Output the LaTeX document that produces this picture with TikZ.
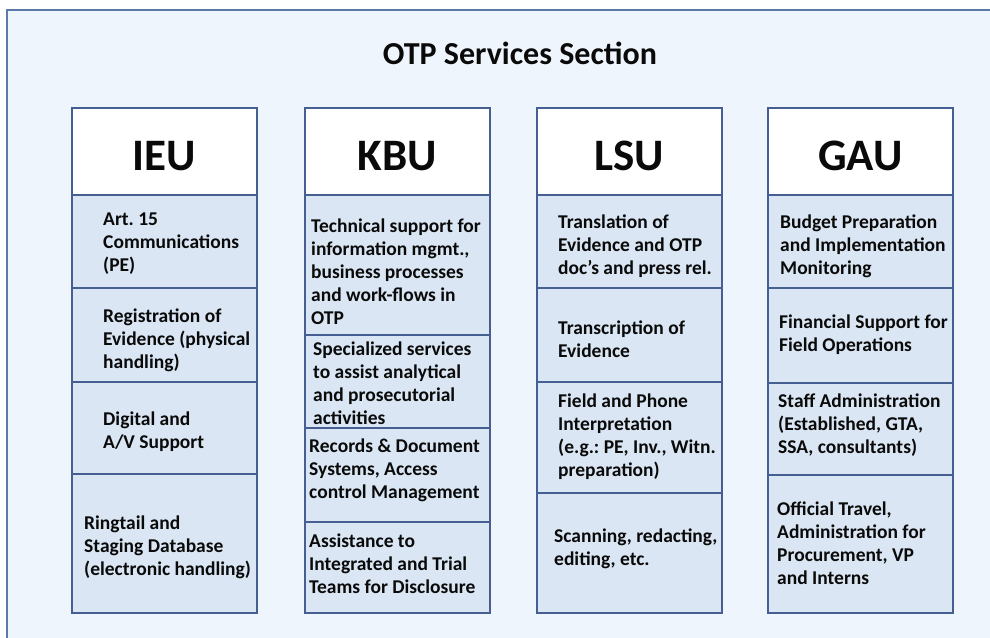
\documentclass[tikz,border=0pt]{standalone}
\usepackage{fontspec}
\setmainfont{Carlito}
\frenchspacing
\definecolor{pagebg}{HTML}{EEF5FC}
\definecolor{framec}{HTML}{5A7BAA}
\definecolor{cellfill}{HTML}{DAE6F3}
\definecolor{cellline}{HTML}{465F92}
\definecolor{inktext}{HTML}{0A0A0A}
\tikzset{
  cellbox/.style={fill=cellfill, draw=cellline, line width=2.6pt},
  headbox/.style={fill=white, draw=cellline, line width=2.6pt},
  celltext/.style={font=\bfseries\fontsize{19.5}{23}\selectfont\frenchspacing, align=left, inner sep=0pt, anchor=west, text=inktext},
  headtext/.style={font=\bfseries\fontsize{45}{50}\selectfont, inner sep=0pt, anchor=base, text=inktext},
  titletext/.style={font=\bfseries\fontsize{32}{36}\selectfont, inner sep=0pt, anchor=base, text=inktext}
}
\newcommand\cellrect[5]{\path[#1] (#2,{637-#4}) rectangle (#3,{637-#5});}
\begin{document}
\begin{tikzpicture}[x=1pt,y=1pt]
\useasboundingbox (0,0) rectangle (990,637);
\fill[white] (0,0) rectangle (990,637);
\begin{scope}
\clip (0,0) rectangle (990,637);
\filldraw[fill=pagebg, draw=framec, line width=2pt] (7,-20) rectangle (1010,{637-10});
\end{scope}
\node[titletext] (title) at (520,{637-65}) {OTP Services Section};
% IEU column
\cellrect{headbox}{72}{257}{108}{195}
\cellrect{cellbox}{72}{257}{195}{288}
\cellrect{cellbox}{72}{257}{288}{382}
\cellrect{cellbox}{72}{257}{382}{474}
\cellrect{cellbox}{72}{257}{474}{613}
\node[headtext] (ieuh) at (164.5,{637-171}) {IEU};
\node[celltext] (ieu1) at (103,{637-243.5}) {Art. 15\\Communications\\(PE)};
\node[celltext] (ieu2) at (103,{637-340.5}) {Registration of\\Evidence (physical\\handling)};
\node[celltext] (ieu3) at (103,{637-432}) {Digital and\\A/V Support};
\node[celltext] (ieu4) at (84,{637-547}) {Ringtail and\\Staging Database\\(electronic handling)};
% KBU column
\cellrect{headbox}{305}{490}{108}{195}
\cellrect{cellbox}{305}{490}{195}{335}
\cellrect{cellbox}{305}{490}{335}{428}
\cellrect{cellbox}{305}{490}{428}{522}
\cellrect{cellbox}{305}{490}{522}{613}
\node[headtext] (kbuh) at (397.5,{637-171}) {KBU};
\node[celltext] (kbu1) at (311,{637-271.5}) {Technical support for\\information mgmt.,\\business processes\\and work-flows in\\OTP};
\node[celltext] (kbu2) at (313,{637-383}) {Specialized services\\to assist analytical\\and prosecutorial\\activities};
\node[celltext] (kbu3) at (309,{637-470.5}) {Records \& Document\\Systems, Access\\control Management};
\node[celltext] (kbu4) at (309,{637-563.5}) {Assistance to\\Integrated and Trial\\Teams for Disclosure};
% LSU column
\cellrect{headbox}{537}{722}{108}{195}
\cellrect{cellbox}{537}{722}{195}{288}
\cellrect{cellbox}{537}{722}{288}{382}
\cellrect{cellbox}{537}{722}{382}{493}
\cellrect{cellbox}{537}{722}{493}{613}
\node[headtext] (lsuh) at (629.5,{637-171}) {LSU};
\node[celltext] (lsu1) at (558,{637-246.5}) {Translation of\\Evidence and OTP\\doc’s and press rel.};
\node[celltext] (lsu2) at (558,{637-339}) {Transcription of\\Evidence};
\node[celltext] (lsu3) at (558,{637-437}) {Field and Phone\\Interpretation\\(e.g.: PE, Inv., Witn.\\preparation)};
\node[celltext] (lsu4) at (554,{637-549}) {Scanning, redacting,\\editing, etc.};
% GAU column
\cellrect{headbox}{768}{953}{108}{195}
\cellrect{cellbox}{768}{953}{195}{288}
\cellrect{cellbox}{768}{953}{288}{383}
\cellrect{cellbox}{768}{953}{383}{475}
\cellrect{cellbox}{768}{953}{475}{613}
\node[headtext] (gauh) at (860.5,{637-171}) {GAU};
\node[celltext] (gau1) at (780,{637-246.5}) {Budget Preparation\\and Implementation\\Monitoring};
\node[celltext] (gau2) at (779,{637-335}) {Financial Support for\\Field Operations};
\node[celltext] (gau3) at (778,{637-425.5}) {Staff Administration\\(Established, GTA,\\SSA, consultants)};
\node[celltext] (gau4) at (777,{637-543}) {Official Travel,\\Administration for\\Procurement, VP\\and Interns};
\end{tikzpicture}
\end{document}
